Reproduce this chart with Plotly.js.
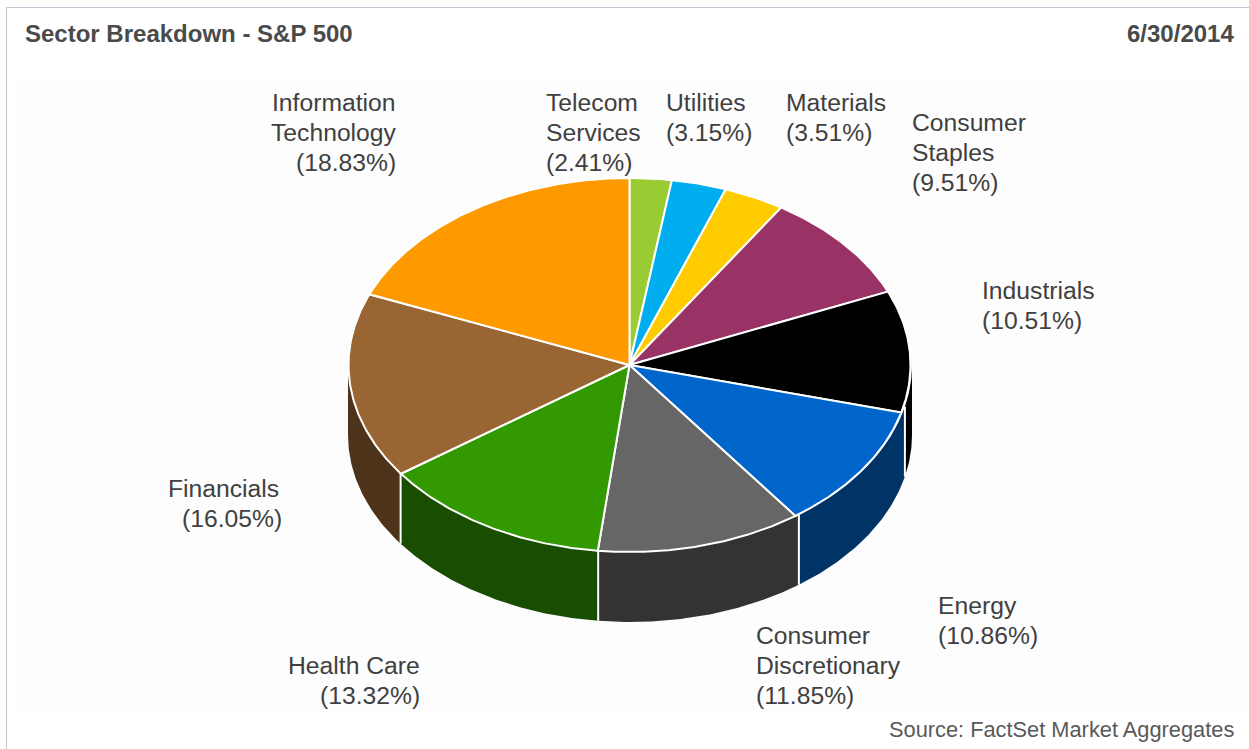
<!DOCTYPE html>
<html>
<head>
<meta charset="utf-8">
<script src="https://cdn.plot.ly/plotly-3.0.1.min.js"></script>
<style>html,body{margin:0;padding:0;background:#fff;overflow:hidden}</style>
</head>
<body>
<div id="chart" style="width:1249px;height:749px"></div>
<script>
// Index weights in percent, clockwise from twelve o'clock.
const sectorLines = [
  ["Telecom", "Services"], ["Utilities"], ["Materials"], ["Consumer", "Staples"],
  ["Industrials"], ["Energy"], ["Consumer", "Discretionary"], ["Health Care"],
  ["Financials"], ["Information", "Technology"]
];
const weights = [2.41, 3.15, 3.51, 9.51, 10.51, 10.86, 11.85, 13.32, 16.05, 18.83];
const topColors = ["#99CC33", "#00AEEF", "#FFCC00", "#993366", "#000000",
                   "#0066CC", "#666666", "#339900", "#996633", "#FF9900"];
const wallColors = ["#4D6619", "#005778", "#806600", "#4D1933", "#000000",
                    "#003366", "#333333", "#194D00", "#4D3319", "#804D00"];

// Left edge and vertical centre of each label's lines, one row per text line.
const labelLeft = [
  [545, 545, 545], [665, 665], [785, 785], [911, 911, 911], [981, 981],
  [937, 937], [755, 755, 755], [287, 319], [167, 181], [271, 270, 295]
];
const labelTop = [102, 102, 102, 122, 290, 605, 635, 665, 488, 102];
const lineStep = 30;

// Pie ellipse, in the pixel-sized units of the hidden axes.
const cx = 629.5, cy = 365, rx = 281, ry = 187, depth = 70;
const wallCx = 630, wallRx = 282;

const rad = d => d * Math.PI / 180;
const px = (deg, ox, r) => ox + r * Math.sin(rad(deg));
const py = (deg, oy) => oy - ry * Math.cos(rad(deg));

// The wall sits slightly rotated against the top face on its right-hand side.
const wallAngle = a => a < 180 ? a - 2.4 * Math.pow((180 - a) / 90, 1.5) : a;

function arc(a0, a1) {
  const out = [];
  const n = Math.max(2, Math.ceil(Math.abs(a1 - a0) * 2));
  for (let i = 0; i <= n; i++) out.push(a0 + (a1 - a0) * i / n);
  return out;
}

const edges = [0];
weights.forEach(w => edges.push(edges[edges.length - 1] + w * 3.6));

const traces = [];

// Outer wall: only the part of each slice facing the viewer.
weights.forEach((w, i) => {
  const a0 = Math.max(wallAngle(edges[i]), 90), a1 = Math.min(wallAngle(edges[i + 1]), 270);
  if (a1 <= a0) return;
  const top = arc(a0, a1), bottom = arc(a1, a0);
  traces.push({
    type: "scatter", mode: "lines", fill: "toself", fillcolor: wallColors[i],
    line: {width: 0, color: wallColors[i]},
    x: top.map(a => px(a, wallCx, wallRx)).concat(bottom.map(a => px(a, wallCx, wallRx))),
    y: top.map(a => py(a, cy)).concat(bottom.map(a => py(a, cy + depth))),
    hoverinfo: "skip"
  });
});

// White seams between neighbouring wall pieces.
const seamX = [], seamY = [];
edges.forEach(e => {
  const a = wallAngle(e);
  if (a > 90 && a < 270) {
    seamX.push(px(a, wallCx, wallRx), px(a, wallCx, wallRx), null);
    seamY.push(py(a, cy), py(a, cy + depth), null);
  }
});
traces.push({type: "scatter", mode: "lines", x: seamX, y: seamY,
             line: {color: "#ffffff", width: 2}, hoverinfo: "skip"});

// Top face slices.
weights.forEach((w, i) => {
  const a = arc(edges[i], edges[i + 1]);
  traces.push({
    type: "scatter", mode: "lines", fill: "toself", fillcolor: topColors[i],
    line: {color: "#ffffff", width: 2},
    x: [cx].concat(a.map(d => px(d, cx, rx)), [cx]),
    y: [cy].concat(a.map(d => py(d, cy)), [cy]),
    hoverinfo: "skip"
  });
});

// Each text line is its own annotation so the 30px leading is exact.
const annotations = [];
const labelFont = {family: "Liberation Sans, Arial, sans-serif", size: 24.7, color: "#404040"};
sectorLines.forEach((lines, i) => {
  const rows = lines.concat("(" + weights[i].toFixed(2) + "%)");
  rows.forEach((t, r) => annotations.push({
    xref: "x", yref: "y", x: labelLeft[i][r], y: labelTop[i] + r * lineStep,
    text: t, showarrow: false, xanchor: "left", yanchor: "middle",
    font: labelFont, borderpad: 0
  }));
});

const headFont = {family: "Liberation Sans, Arial, sans-serif", size: 24, color: "#4a4a4a", weight: 700};
annotations.push(
  {xref: "x", yref: "y", x: 23.5, y: 33, text: "<b>Sector Breakdown - S&amp;P 500</b>", showarrow: false,
   xanchor: "left", yanchor: "middle", font: headFont, borderpad: 0},
  {xref: "x", yref: "y", x: 1235, y: 33, text: "<b>6/30/2014</b>", showarrow: false,
   xanchor: "right", yanchor: "middle", font: headFont, borderpad: 0},
  {xref: "x", yref: "y", x: 1235, y: 729, text: "Source: FactSet Market Aggregates", showarrow: false,
   xanchor: "right", yanchor: "middle", borderpad: 0,
   font: {family: "Liberation Sans, Arial, sans-serif", size: 21.8, color: "#595959"}}
);

const layout = {
  width: 1249, height: 749,
  margin: {l: 0, r: 0, t: 0, b: 0},
  paper_bgcolor: "#ffffff", plot_bgcolor: "#ffffff",
  showlegend: false,
  xaxis: {visible: false, range: [0, 1249], fixedrange: true},
  yaxis: {visible: false, range: [749, 0], fixedrange: true},
  annotations,
  shapes: [
    // Panel tint behind the pie
    {type: "rect", layer: "below", xref: "x", yref: "y", x0: 16, x1: 1249, y0: 82, y1: 713,
     fillcolor: "#fdfdfd", line: {width: 0}},
    // Card outline along the top and left
    {type: "line", layer: "below", xref: "x", yref: "y", x0: 6.5, x1: 1249, y0: 7.5, y1: 7.5,
     line: {color: "#c4c4d2", width: 1}},
    {type: "line", layer: "below", xref: "x", yref: "y", x0: 6.5, x1: 6.5, y0: 7.5, y1: 749,
     line: {color: "#c4c4d2", width: 1}}
  ]
};

Plotly.newPlot("chart", traces, layout, {displayModeBar: false, staticPlot: true});
</script>
</body>
</html>
